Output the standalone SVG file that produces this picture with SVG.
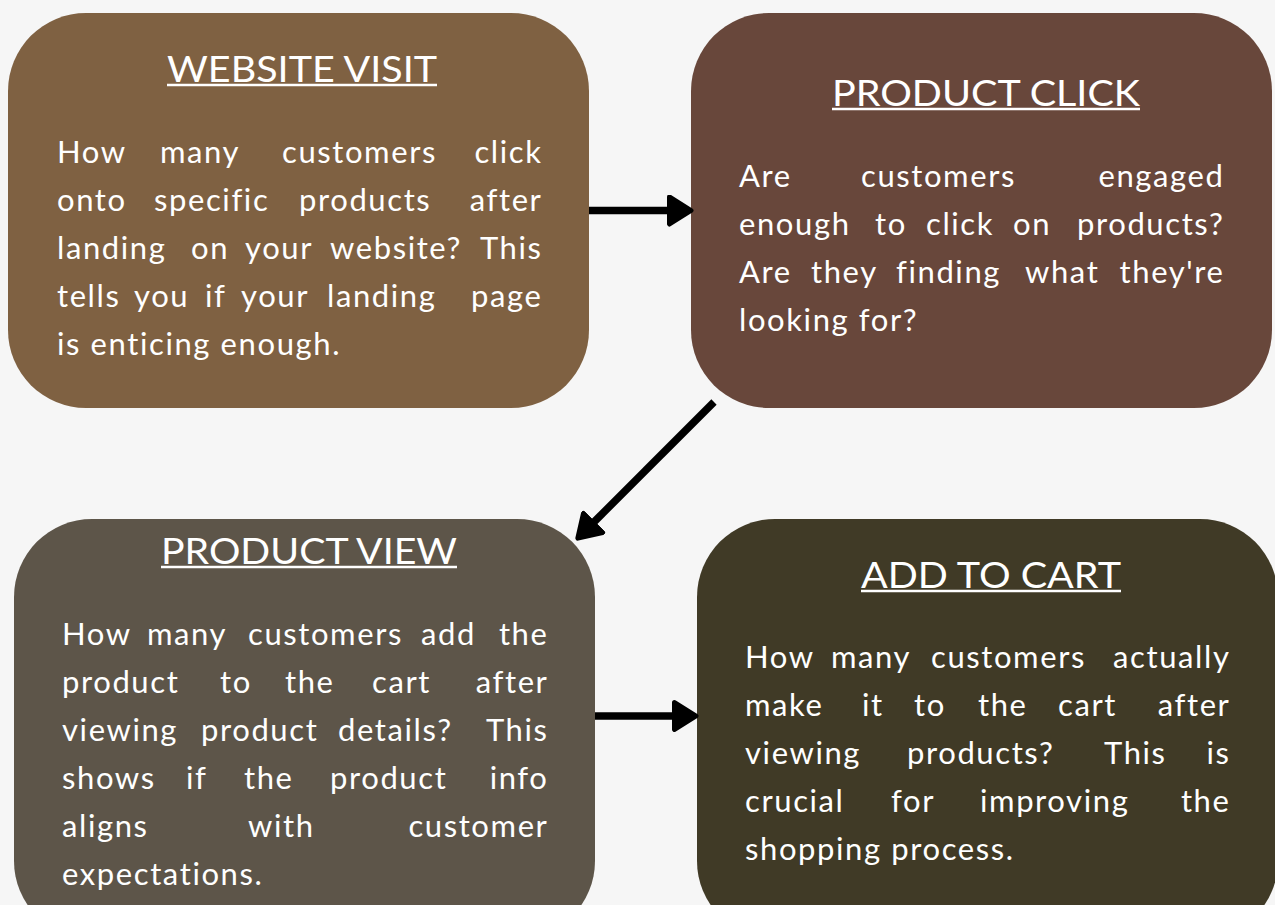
<svg xmlns="http://www.w3.org/2000/svg" width="1275" height="905" viewBox="0 0 1275 905">
  <style>
    .title { font-family: Lato, "Open Sans", sans-serif; font-size: 37px; fill: #ffffff; text-anchor: middle; }
    .body { font-family: Lato, "Open Sans", sans-serif; font-size: 31px; fill: #ffffff; letter-spacing: 1.6px; }
    .end { text-anchor: end; }
    .rule { stroke: #ffffff; stroke-width: 2.4; }
    .conn { fill: none; stroke: #000000; stroke-width: 7.5; }
  </style>
  <defs>
    <marker id="head" markerUnits="userSpaceOnUse" viewBox="0 0 27 32" markerWidth="27" markerHeight="32" refX="4" refY="16" orient="auto">
      <path d="M2.5,2.5 L24,16 L2.5,29.5 Z" fill="#000000" stroke="#000000" stroke-width="5" stroke-linejoin="round"/>
    </marker>
  </defs>

  <rect width="1275" height="905" fill="#f6f6f6"/>

  <g id="website-visit">
    <rect x="8" y="13" width="581" height="395" rx="78" ry="78" fill="#7f6142"/>
    <text class="title" x="302" y="82" textLength="270" lengthAdjust="spacingAndGlyphs">WEBSITE VISIT</text>
    <line class="rule" x1="167" y1="85" x2="437" y2="85"/>
    <text class="body" y="163"><tspan x="57">How</tspan><tspan x="160">many</tspan><tspan x="282">customers</tspan></text>
    <text class="body end" x="542.5" y="163">click</text>
    <text class="body" y="211"><tspan x="57">onto</tspan><tspan x="154">specific</tspan><tspan x="299">products</tspan></text>
    <text class="body end" x="542.5" y="211">after</text>
    <text class="body" y="259"><tspan x="57">landing</tspan><tspan x="191">on</tspan><tspan x="245">your</tspan><tspan x="330">website?</tspan></text>
    <text class="body end" x="542.5" y="259">This</text>
    <text class="body" y="307"><tspan x="57">tells</tspan><tspan x="134">you</tspan><tspan x="205">if</tspan><tspan x="241">your</tspan><tspan x="327">landing</tspan></text>
    <text class="body end" x="542.5" y="307">page</text>
    <text class="body" x="57" y="355">is enticing enough.</text>
  </g>

  <g id="product-click">
    <rect x="691" y="13" width="581" height="395" rx="78" ry="78" fill="#68473b"/>
    <text class="title" x="986" y="106" textLength="308" lengthAdjust="spacingAndGlyphs">PRODUCT CLICK</text>
    <line class="rule" x1="832" y1="109" x2="1140" y2="109"/>
    <text class="body" y="187"><tspan x="739">Are</tspan><tspan x="861">customers</tspan></text>
    <text class="body end" x="1224.5" y="187">engaged</text>
    <text class="body" y="235"><tspan x="739">enough</tspan><tspan x="875">to</tspan><tspan x="926">click</tspan><tspan x="1013">on</tspan></text>
    <text class="body end" x="1224.5" y="235">products?</text>
    <text class="body" y="283"><tspan x="739">Are</tspan><tspan x="811">they</tspan><tspan x="896">finding</tspan><tspan x="1025">what</tspan></text>
    <text class="body end" x="1224.5" y="283">they're</text>
    <text class="body" x="739" y="331">looking for?</text>
  </g>

  <g id="product-view">
    <rect x="14" y="519" width="581" height="420" rx="78" ry="78" fill="#5d5549"/>
    <text class="title" x="309" y="564" textLength="296" lengthAdjust="spacingAndGlyphs">PRODUCT VIEW</text>
    <line class="rule" x1="161" y1="567" x2="457" y2="567"/>
    <text class="body" y="645"><tspan x="62">How</tspan><tspan x="147">many</tspan><tspan x="248">customers</tspan><tspan x="421">add</tspan></text>
    <text class="body end" x="548.5" y="645">the</text>
    <text class="body" y="693"><tspan x="62">product</tspan><tspan x="220">to</tspan><tspan x="285">the</tspan><tspan x="372">cart</tspan></text>
    <text class="body end" x="548.5" y="693">after</text>
    <text class="body" y="741"><tspan x="62">viewing</tspan><tspan x="201">product</tspan><tspan x="338">details?</tspan></text>
    <text class="body end" x="548.5" y="741">This</text>
    <text class="body" y="789"><tspan x="62">shows</tspan><tspan x="186">if</tspan><tspan x="244">the</tspan><tspan x="330">product</tspan></text>
    <text class="body end" x="548.5" y="789">info</text>
    <text class="body" y="837"><tspan x="62">aligns</tspan><tspan x="248">with</tspan></text>
    <text class="body end" x="548.5" y="837">customer</text>
    <text class="body" x="62" y="885">expectations.</text>
  </g>

  <g id="add-to-cart">
    <rect x="697" y="519" width="581" height="420" rx="78" ry="78" fill="#403a26"/>
    <text class="title" x="991" y="588" textLength="260" lengthAdjust="spacingAndGlyphs">ADD TO CART</text>
    <line class="rule" x1="861" y1="591" x2="1121" y2="591"/>
    <text class="body" y="668"><tspan x="745">How</tspan><tspan x="831">many</tspan><tspan x="931">customers</tspan></text>
    <text class="body end" x="1230.5" y="668">actually</text>
    <text class="body" y="716"><tspan x="745">make</tspan><tspan x="862">it</tspan><tspan x="914">to</tspan><tspan x="978">the</tspan><tspan x="1058">cart</tspan></text>
    <text class="body end" x="1230.5" y="716">after</text>
    <text class="body" y="764"><tspan x="745">viewing</tspan><tspan x="907">products?</tspan><tspan x="1104">This</tspan></text>
    <text class="body end" x="1230.5" y="764">is</text>
    <text class="body" y="812"><tspan x="745">crucial</tspan><tspan x="891">for</tspan><tspan x="980">improving</tspan></text>
    <text class="body end" x="1230.5" y="812">the</text>
    <text class="body" x="745" y="860">shopping process.</text>
  </g>

  <g id="connectors">
    <path class="conn" d="M589,210.5 L671,210.5" marker-end="url(#head)"/>
    <path class="conn" d="M714,402 L592,524" marker-end="url(#head)"/>
    <path class="conn" d="M595,716 L676,716" marker-end="url(#head)"/>
  </g>
</svg>
